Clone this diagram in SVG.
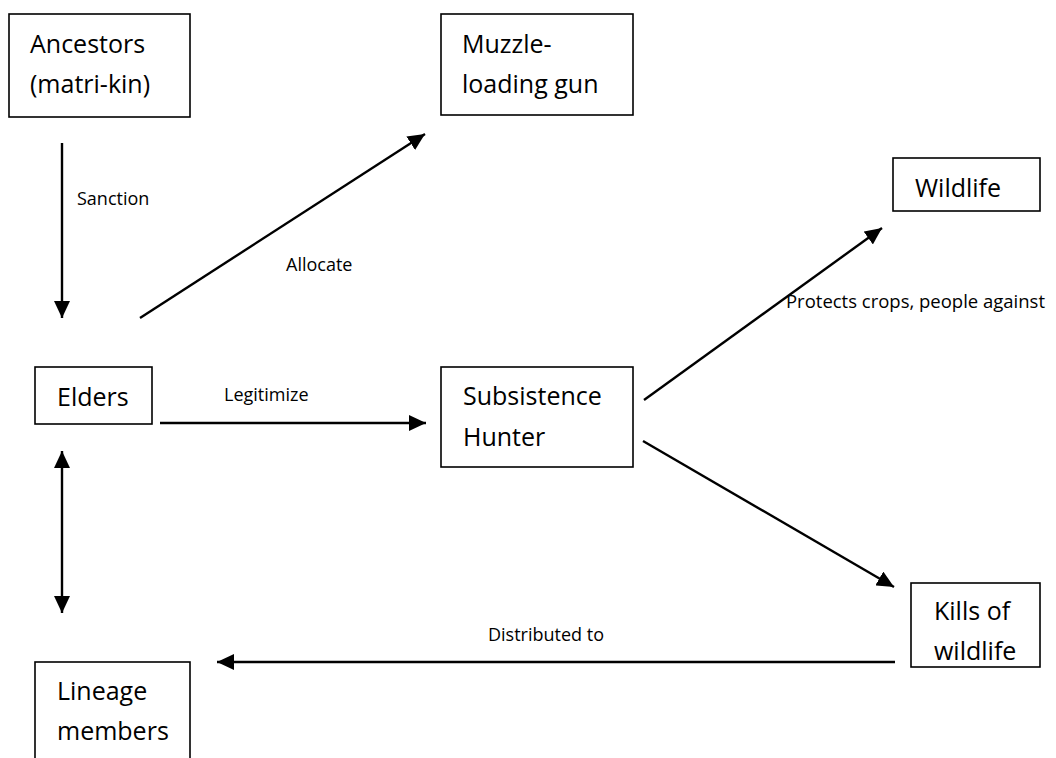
<svg xmlns="http://www.w3.org/2000/svg" width="1056" height="758" viewBox="0 0 1056 758">
  <style>
    .box { fill: #ffffff; stroke: #000000; stroke-width: 1.6; }
    .t { font-family: "Open Sans", "Noto Sans", sans-serif; font-size: 25px; fill: #000000; }
    .lbl { font-family: "Open Sans", "Noto Sans", sans-serif; font-size: 18px; fill: #000000; }
    .edge { fill: none; stroke: #000000; stroke-width: 2.4; }
  </style>
  <defs>
    <marker id="ah" markerUnits="userSpaceOnUse" markerWidth="17" markerHeight="16" refX="17" refY="8" orient="auto-start-reverse" viewBox="0 0 17 16">
      <path d="M0,0 L17,8 L0,16 z" fill="#000000"/>
    </marker>
  </defs>
  <rect width="1056" height="758" fill="#ffffff"/>

  <g id="ancestors">
    <rect class="box" x="9" y="14" width="181" height="103"/>
    <text class="t" x="30" y="53">Ancestors</text>
    <text class="t" x="30" y="93">(matri-kin)</text>
  </g>
  <g id="muzzle-gun">
    <rect class="box" x="441" y="14" width="192" height="101"/>
    <text class="t" x="462" y="53">Muzzle-</text>
    <text class="t" x="462" y="93">loading gun</text>
  </g>
  <g id="wildlife">
    <rect class="box" x="893" y="158" width="147" height="53"/>
    <text class="t" x="915" y="197">Wildlife</text>
  </g>
  <g id="elders">
    <rect class="box" x="35" y="367" width="117" height="57"/>
    <text class="t" x="57" y="406">Elders</text>
  </g>
  <g id="subsistence-hunter">
    <rect class="box" x="441" y="367" width="192" height="100"/>
    <text class="t" x="463" y="405">Subsistence</text>
    <text class="t" x="463" y="446">Hunter</text>
  </g>
  <g id="kills">
    <rect class="box" x="911" y="583" width="129" height="84"/>
    <text class="t" x="934" y="620">Kills of</text>
    <text class="t" x="934" y="660">wildlife</text>
  </g>
  <g id="lineage">
    <rect class="box" x="35" y="662" width="155" height="110"/>
    <text class="t" x="57" y="700">Lineage</text>
    <text class="t" x="57" y="740">members</text>
  </g>

  <g id="connectors">
    <line class="edge" x1="62" y1="143" x2="62" y2="318" marker-end="url(#ah)"/>
    <text class="lbl" x="77" y="205">Sanction</text>
    <line class="edge" x1="140" y1="318" x2="425" y2="134" marker-end="url(#ah)"/>
    <text class="lbl" x="286" y="271">Allocate</text>
    <line class="edge" x1="160" y1="423" x2="426" y2="423" marker-end="url(#ah)"/>
    <text class="lbl" x="224" y="401">Legitimize</text>
    <line class="edge" x1="644" y1="400" x2="882" y2="228" marker-end="url(#ah)"/>
    <text class="lbl" x="786" y="308" textLength="259" lengthAdjust="spacingAndGlyphs">Protects crops, people against</text>
    <line class="edge" x1="643" y1="441" x2="894" y2="587" marker-end="url(#ah)"/>
    <line class="edge" x1="895" y1="662" x2="217" y2="662" marker-end="url(#ah)"/>
    <text class="lbl" x="488" y="641">Distributed to</text>
    <line class="edge" x1="62" y1="451" x2="62" y2="613" marker-start="url(#ah)" marker-end="url(#ah)"/>
  </g>
</svg>
